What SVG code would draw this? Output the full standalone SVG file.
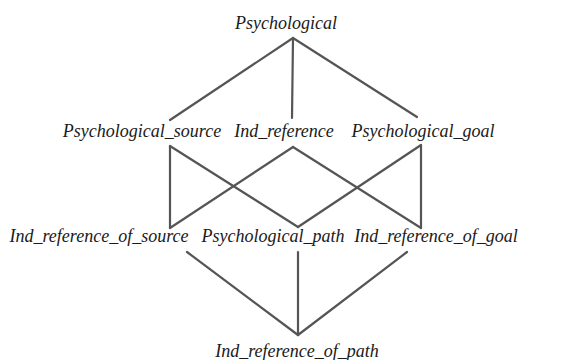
<svg xmlns="http://www.w3.org/2000/svg" width="575" height="360" viewBox="0 0 575 360">
  <style>
    .lbl { font-family: "Liberation Serif", "Times New Roman", serif; font-style: italic; font-size: 18px; fill: #1a1a1a; text-anchor: middle; }
    .edge { stroke: #555555; stroke-width: 2.2; fill: none; stroke-linecap: round; }
  </style>
  <rect width="575" height="360" fill="#ffffff"/>

  <g id="connectors">
    <!-- top level to middle row -->
    <line class="edge" x1="293" y1="38" x2="170" y2="120"/>
    <line class="edge" x1="293" y1="38" x2="292" y2="118"/>
    <line class="edge" x1="293" y1="38" x2="417" y2="117"/>
    <!-- middle row to lower row -->
    <line class="edge" x1="170" y1="146" x2="170" y2="228"/>
    <line class="edge" x1="170" y1="146" x2="298" y2="227"/>
    <line class="edge" x1="293" y1="147" x2="170" y2="228"/>
    <line class="edge" x1="293" y1="147" x2="421" y2="228"/>
    <line class="edge" x1="421" y1="145" x2="298" y2="227"/>
    <line class="edge" x1="421" y1="145" x2="421" y2="228"/>
    <!-- lower row to bottom -->
    <line class="edge" x1="187" y1="252" x2="298" y2="335"/>
    <line class="edge" x1="298" y1="252" x2="298" y2="335"/>
    <line class="edge" x1="407" y1="252" x2="298" y2="335"/>
  </g>

  <g id="psychological"><text class="lbl" x="286" y="29">Psychological</text></g>
  <g id="psychological_source"><text class="lbl" x="142" y="137">Psychological_source</text></g>
  <g id="ind_reference"><text class="lbl" x="284" y="137">Ind_reference</text></g>
  <g id="psychological_goal"><text class="lbl" x="423" y="137">Psychological_goal</text></g>
  <g id="ind_reference_of_source"><text class="lbl" x="99" y="242">Ind_reference_of_source</text></g>
  <g id="psychological_path"><text class="lbl" x="273" y="242">Psychological_path</text></g>
  <g id="ind_reference_of_goal"><text class="lbl" x="436" y="242">Ind_reference_of_goal</text></g>
  <g id="ind_reference_of_path"><text class="lbl" x="297" y="357">Ind_reference_of_path</text></g>
</svg>
